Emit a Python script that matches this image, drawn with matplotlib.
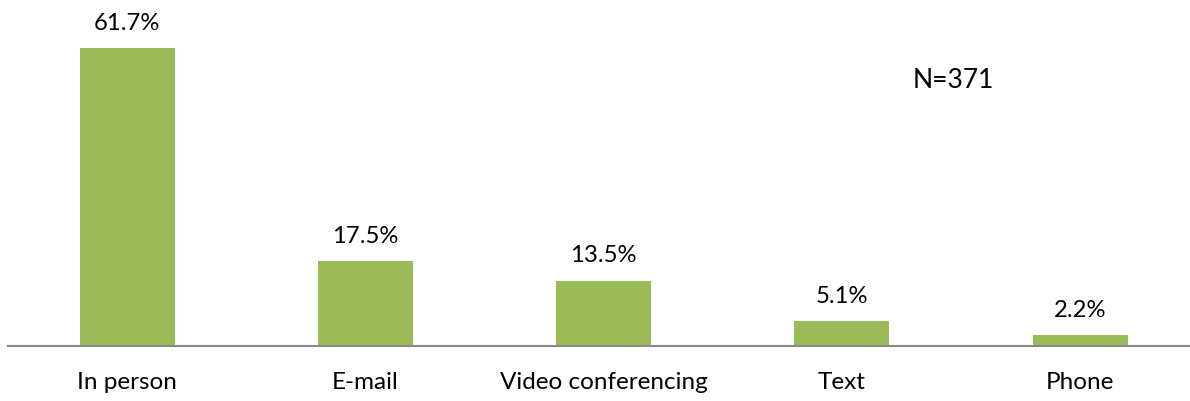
import matplotlib
matplotlib.use("Agg")
import matplotlib.pyplot as plt

categories = ["In person", "E-mail", "Video conferencing", "Text", "Phone"]
values = [61.7, 17.5, 13.5, 5.1, 2.2]
value_labels = ["61.7%", "17.5%", "13.5%", "5.1%", "2.2%"]
note = "N=371"

plt.rcParams['font.family'] = ['Lato', 'DejaVu Sans']

W, H = 1190, 401
fig = plt.figure(figsize=(W / 100, H / 100), dpi=100)
left_px, bottom_px = 8, 55
ax_w_px = 1182
ax_h_px = H - bottom_px
ax = fig.add_axes([left_px / W, bottom_px / H, ax_w_px / W, ax_h_px / H])

slot = 238.25
x = list(range(len(categories)))
ax.bar(x, values, width=95 / slot, color="#9BBB59", zorder=2)

ax.set_xlim(-0.5, -0.5 + ax_w_px / slot)
px_per_unit = (346 - 48) / 61.7
ax.set_ylim(0, ax_h_px / px_per_unit)

for xi, v, lab in zip(x, values, value_labels):
    ax.annotate(lab, (xi, v), xytext=(0, 18), textcoords="offset points",
                ha="center", va="center", fontsize=17.2, color="#000000")

ax.set_xticks(x)
ax.set_xticklabels(categories, fontsize=17.5, color="#000000")
ax.tick_params(axis="x", length=0, pad=19)
ax.set_yticks([])

for s in ["top", "right", "left"]:
    ax.spines[s].set_visible(False)
ax.spines["bottom"].set_color("#898989")
ax.spines["bottom"].set_linewidth(1.5)

fig.text(953 / W, 1 - 80 / H, note, ha="center", va="center", fontsize=19, color="#000000")

fig.savefig("out.png", dpi=100)
